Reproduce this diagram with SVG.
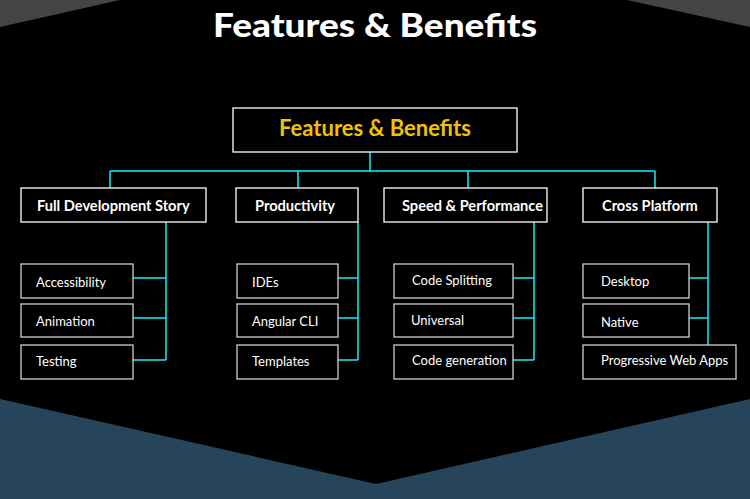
<svg xmlns="http://www.w3.org/2000/svg" width="750" height="499" viewBox="0 0 750 499">
<style>
.bg{fill:#000}
.l1{fill:#000;stroke:#fff;stroke-width:1.3}
.l2{fill:#000;stroke:#cfcfcf;stroke-width:1.3}
.t1{font-family:Lato,"Open Sans",sans-serif;font-weight:bold;font-size:14.6px;fill:#fff}
.t2{font-family:Lato,"Open Sans",sans-serif;font-size:13px;fill:#fff}
#connectors path{fill:none;stroke:#10f0f8;stroke-width:1.5}
</style>
<rect class="bg" x="0" y="0" width="750" height="499"/>
<polygon points="0,0 120,0 0,27" fill="#444"/>
<polygon points="627,0 750,0 750,27" fill="#444"/>
<polygon points="0,399 376,484 750,399 750,499 0,499" fill="#26455a"/>
<text x="213" y="37" textLength="324" lengthAdjust="spacingAndGlyphs" font-family="Lato,'Open Sans',sans-serif" font-weight="900" font-size="33" fill="#fff">Features &amp; Benefits</text>
<g id="connectors">
<path d="M370,152V171M110,171H655M110,171V188M298,171V188M468,171V188M655,171V188"/>
<path d="M166,222V360M133,278H166M133,318H166M133,360H166"/>
<path d="M358,222V360M338,278H358M338,318H358M338,360H358"/>
<path d="M534,222V360M513,278H534M513,318H534M513,360H534"/>
<path d="M708,222V345M689,278H708M689,318H708"/>
</g>
<g id="root"><rect x="233" y="108" width="284" height="44" fill="#000" stroke="#fff" stroke-width="1.3"/><text x="375" y="136" text-anchor="middle" font-family="Lato,'Open Sans',sans-serif" font-weight="bold" font-size="22" fill="#f2c200">Features &amp; Benefits</text></g>
<g id="full-dev"><rect class="l1" x="21" y="188" width="185" height="34"/><text class="t1" x="37" y="211">Full Development Story</text></g>
<g id="productivity"><rect class="l1" x="236" y="188" width="122" height="34"/><text class="t1" x="255" y="211">Productivity</text></g>
<g id="speed"><rect class="l1" x="384" y="188" width="163" height="34"/><text class="t1" x="402" y="211">Speed &amp; Performance</text></g>
<g id="cross"><rect class="l1" x="583" y="188" width="134" height="34"/><text class="t1" x="602" y="211">Cross Platform</text></g>
<g id="accessibility"><rect class="l2" x="21" y="264" width="112" height="34"/><text class="t2" x="36" y="287">Accessibility</text></g>
<g id="animation"><rect class="l2" x="21" y="304" width="112" height="33"/><text class="t2" x="36" y="326">Animation</text></g>
<g id="testing"><rect class="l2" x="21" y="345" width="112" height="34"/><text class="t2" x="36" y="366">Testing</text></g>
<g id="ides"><rect class="l2" x="237" y="264" width="101" height="34"/><text class="t2" x="252" y="287">IDEs</text></g>
<g id="angular-cli"><rect class="l2" x="237" y="304" width="101" height="33"/><text class="t2" x="252" y="326">Angular CLI</text></g>
<g id="templates"><rect class="l2" x="237" y="345" width="101" height="34"/><text class="t2" x="252" y="366">Templates</text></g>
<g id="code-splitting"><rect class="l2" x="394" y="264" width="119" height="34"/><text class="t2" x="412" y="285">Code Splitting</text></g>
<g id="universal"><rect class="l2" x="394" y="304" width="119" height="33"/><text class="t2" x="411" y="325">Universal</text></g>
<g id="code-generation"><rect class="l2" x="394" y="345" width="119" height="34"/><text class="t2" x="412" y="365">Code generation</text></g>
<g id="desktop"><rect class="l2" x="583" y="264" width="106" height="34"/><text class="t2" x="601" y="286">Desktop</text></g>
<g id="native"><rect class="l2" x="583" y="304" width="106" height="33"/><text class="t2" x="601" y="327">Native</text></g>
<g id="pwa"><rect class="l2" x="583" y="345" width="153" height="34"/><text class="t2" x="601" y="365">Progressive Web Apps</text></g>
</svg>
